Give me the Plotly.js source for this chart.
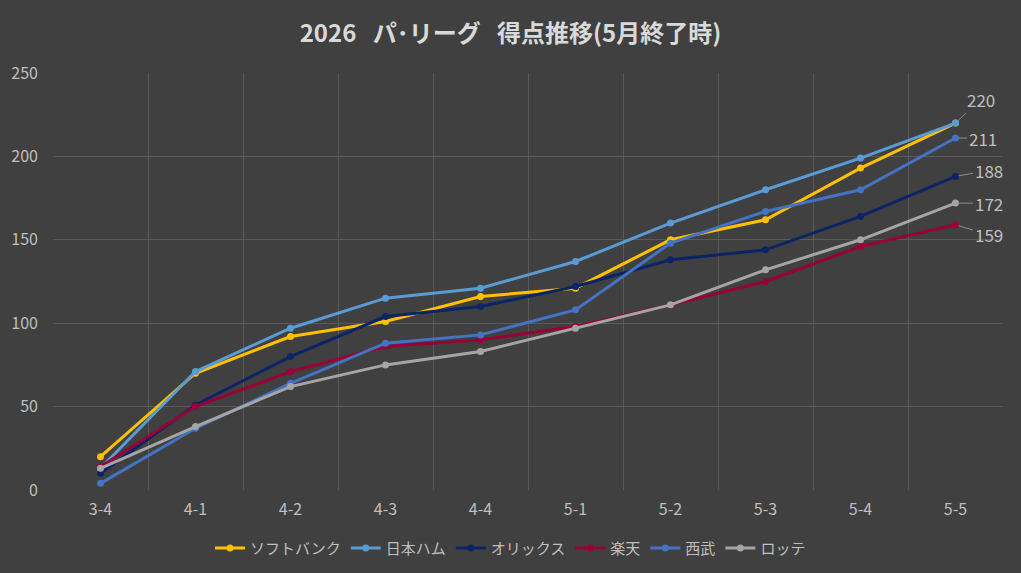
<!DOCTYPE html>
<html>
<head>
<meta charset="utf-8">
<script src="https://cdn.plot.ly/plotly-3.0.1.min.js"></script>
<style>
    html, body { margin: 0; padding: 0; background: #404040; }
    #chart { width: 1021px; height: 573px; }
</style>
</head>
<body>
<div id="chart"></div>
<script>
// 節 (3-4 = 3月4週 ...)
const games = ['3-4', '4-1', '4-2', '4-3', '4-4', '5-1', '5-2', '5-3', '5-4', '5-5'];

const softbank = [20, 70, 92, 101, 116, 121, 150, 162, 193, 220];
const nipponham = [13, 71, 97, 115, 121, 137, 160, 180, 199, 220];
const orix = [10, 51, 80, 104, 110, 122, 138, 144, 164, 188];
const rakuten = [14, 50, 71, 86, 90, 98, 111, 125, 146, 159];
const seibu = [4, 37, 64, 88, 93, 108, 148, 167, 180, 211];
const lotte = [13, 38, 62, 75, 83, 97, 111, 132, 150, 172];

const teams = ['ソフトバンク', '日本ハム', 'オリックス', '楽天', '西武', 'ロッテ'];
const colors = ['#FFC000', '#5B9BD5', '#0B2466', '#990036', '#4472C4', '#A5A5A5'];

window.onload = main;

function main() {
    const series = [softbank, nipponham, orix, rakuten, seibu, lotte];
    const font = 'Noto Sans CJK JP, Noto Sans, sans-serif';

    const data = series.map((vals, i) => ({
        x: games,
        y: vals,
        name: teams[i],
        type: 'scatter',
        mode: 'lines+markers',
        line: { color: colors[i], width: 3 },
        marker: { color: colors[i], size: 7 }
    }));

    // 最終節のラベル (220 は2チーム同点なので1つだけ)
    const last = games.length - 1;
    const labelOffsets = [
        { team: 1, ax: 25, ay: -24 },
        { team: 4, ax: 27, ay: 0 },
        { team: 2, ax: 33, ay: -6 },
        { team: 5, ax: 33, ay: 0 },
        { team: 3, ax: 33, ay: 10 }
    ];
    const annotations = labelOffsets.map(o => ({
        x: games[last],
        y: series[o.team][last],
        text: String(series[o.team][last]),
        showarrow: true,
        arrowhead: 0,
        arrowwidth: 1,
        arrowcolor: '#8c8c8c',
        ax: o.ax,
        ay: o.ay,
        standoff: 3,
        font: { family: font, size: 17, color: '#bfbfbf' }
    }));

    const layout = {
        width: 1021,
        height: 573,
        paper_bgcolor: '#404040',
        plot_bgcolor: '#404040',
        margin: { l: 53, r: 18, t: 73, b: 83 },
        font: { family: font, color: '#bfbfbf' },
        title: {
            text: '<b>2026\u00a0\u00a0\u00a0パ･リーグ\u00a0\u00a0\u00a0得点推移(5月終了時)</b>',
            font: { family: font, size: 24, color: '#d9d9d9' },
            x: 0.5,
            xanchor: 'center',
            y: 0.942,
            yanchor: 'middle'
        },
        xaxis: {
            type: 'category',
            range: [-0.5, 9.5],
            tickson: 'boundaries',
            showgrid: true,
            gridcolor: '#595959',
            gridwidth: 1,
            ticks: '',
            zeroline: false,
            showline: false,
            automargin: false,
            tickfont: { size: 16, color: '#bfbfbf' },
            ticklabelstandoff: 8
        },
        yaxis: {
            range: [0, 250],
            dtick: 50,
            showgrid: true,
            gridcolor: '#595959',
            gridwidth: 1,
            zeroline: false,
            showline: false,
            automargin: false,
            ticks: '',
            tickfont: { size: 16, color: '#bfbfbf' },
            ticklabelstandoff: 14
        },
        legend: {
            orientation: 'h',
            x: 0.5,
            xanchor: 'center',
            xref: 'container',
            yref: 'container',
            y: 0.043,
            yanchor: 'middle',
            font: { size: 15, color: '#bfbfbf' },
            tracegroupgap: 0
        },
        annotations: annotations,
        showlegend: true
    };

    Plotly.newPlot('chart', data, layout, { displayModeBar: false, staticPlot: true });
}
</script>
</body>
</html>
